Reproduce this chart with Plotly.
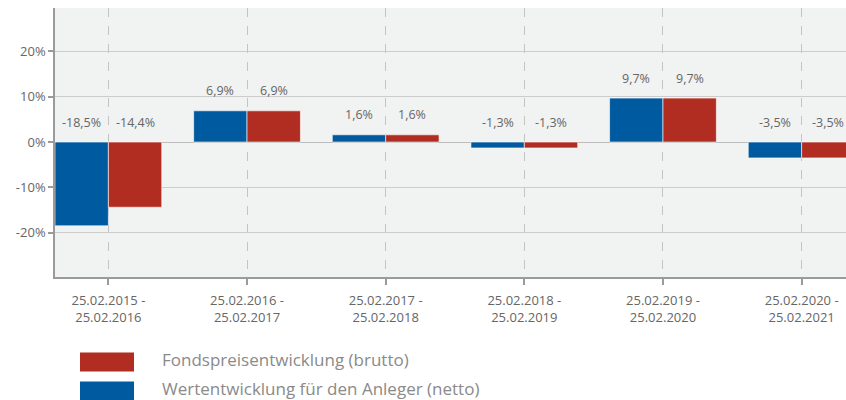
import plotly.graph_objects as go

categories = ["25.02.2015 -<br>25.02.2016", "25.02.2016 -<br>25.02.2017", "25.02.2017 -<br>25.02.2018",
              "25.02.2018 -<br>25.02.2019", "25.02.2019 -<br>25.02.2020", "25.02.2020 -<br>25.02.2021"]
netto = [-18.5, 6.9, 1.6, -1.3, 9.7, -3.5]
brutto = [-14.4, 6.9, 1.6, -1.3, 9.7, -3.5]
name_netto = "Wertentwicklung für den Anleger (netto)"
name_brutto = "Fondspreisentwicklung (brutto)"
y_ticks = [-20, -10, 0, 10, 20]

BLUE = "#005a9f"
RED = "#b22d21"
TXT = "#666666"
FONT = "Open Sans"

def fmt(v):
    return f"{v:.1f}%".replace(".", ",")

fig = go.Figure()
fig.add_trace(go.Bar(x=categories, y=netto, name=name_netto, marker=dict(color=BLUE, line=dict(width=0.6, color="white")), showlegend=False))
fig.add_trace(go.Bar(x=categories, y=brutto, name=name_brutto, marker=dict(color=RED, line=dict(width=0.6, color="white")), showlegend=False))

annotations = []
for series, shift in ((netto, -26.7), (brutto, 26.7)):
    for c, v in zip(categories, series):
        annotations.append(dict(x=c, y=max(v, 0), xref="x", yref="y", text=fmt(v), showarrow=False,
                                xshift=shift, yshift=20, font=dict(family=FONT, size=12.5, color=TXT)))

# legend (custom)
legend_items = [(name_brutto, RED), (name_netto, BLUE)]
shapes = []
for i, (nm, col) in enumerate(legend_items):
    y0 = 400 - 352.5 - i * 29
    y1 = y0 - 19
    shapes.append(dict(type="rect", xref="paper", yref="paper",
                       x0=(80 - 55) / 791, x1=(134 - 55) / 791,
                       y0=(y1 - 123) / 269, y1=(y0 - 123) / 269,
                       fillcolor=col, line=dict(width=0)))
    annotations.append(dict(xref="paper", yref="paper", x=(160 - 55) / 791, y=((y0 + y1) / 2 + 2.5 - 123) / 269,
                            xanchor="left", yanchor="middle", text=nm, showarrow=False,
                            font=dict(family=FONT, size=17, color="#8a8a8a")))

fig.update_layout(
    width=846, height=400,
    margin=dict(l=55, r=0, t=8, b=123),
    paper_bgcolor="white", plot_bgcolor="#f1f2f2",
    barmode="group", bargap=0.23, bargroupgap=0,
    font=dict(family=FONT, size=12, color=TXT),
    annotations=annotations, shapes=shapes,
    showlegend=False,
)
fig.update_xaxes(range=[-0.385, 5.32], showgrid=True, griddash="dash", gridcolor="#c4c4c4", gridwidth=1,
                 showline=True, linecolor="#9a9a9a", linewidth=1.5, ticks="outside", ticklen=6,
                 tickcolor="#9a9a9a", tickwidth=1.5, tickfont=dict(family=FONT, size=13, color=TXT),
                 ticklabelstandoff=5, zeroline=False)
fig.update_yaxes(range=[-29.8, 29.6], tickvals=y_ticks, ticktext=[f"{t}%" for t in y_ticks],
                 showgrid=True, gridcolor="#cccccc", gridwidth=1.2,
                 showline=True, linecolor="#9a9a9a", linewidth=1.5, ticks="outside", ticklen=5,
                 tickcolor="#9a9a9a", tickwidth=1.5, zeroline=True, zerolinecolor="#bdbdbd", zerolinewidth=1.2,
                 tickfont=dict(family=FONT, size=13, color=TXT))

fig.write_html("out.html")
